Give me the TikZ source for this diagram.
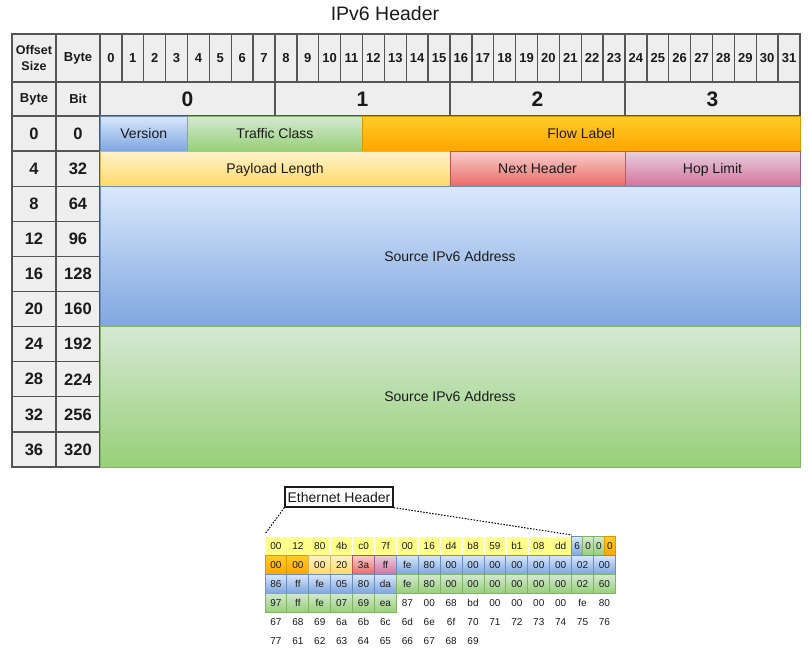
\documentclass[tikz,border=0pt]{standalone}
\usepackage{fontspec}
\setmainfont{Liberation Sans}
\usetikzlibrary{positioning}

\definecolor{txt}{HTML}{1A1A1A}
\definecolor{hdrfill}{HTML}{EEEEEE}
\definecolor{hdrline}{HTML}{555555}
\definecolor{bluetop}{HTML}{DAE8FC}\definecolor{bluebot}{HTML}{7EA6E0}\definecolor{blueline}{HTML}{6C8EBF}
\definecolor{greentop}{HTML}{D5E8D4}\definecolor{greenbot}{HTML}{97D077}\definecolor{greenline}{HTML}{82B366}
\definecolor{orangetop}{HTML}{FFCD28}\definecolor{orangebot}{HTML}{FFA500}\definecolor{orangeline}{HTML}{D79B00}
\definecolor{paletop}{HTML}{FFF2CC}\definecolor{palebot}{HTML}{FFD966}\definecolor{paleline}{HTML}{D6B656}
\definecolor{redtop}{HTML}{F8CECC}\definecolor{redbot}{HTML}{EA6B66}\definecolor{redline}{HTML}{B85450}
\definecolor{pinktop}{HTML}{E6D0DE}\definecolor{pinkbot}{HTML}{D5739D}\definecolor{pinkline}{HTML}{996185}
\definecolor{ethyellow}{HTML}{FFFF88}

\tikzset{
  cell/.style={draw=hdrline, fill=hdrfill, line width=1.3pt, inner sep=0pt, text=txt},
  field/.style={draw=#1line, top color=#1top, bottom color=#1bot, line width=1pt, inner sep=0pt,
    text=txt, text height=10pt, text depth=0pt, font=\fontsize{14}{16}\selectfont},
  hexcell/.style={field=#1, text height=7.2pt, minimum width=21.9pt, minimum height=19pt, font=\fontsize{10}{12}\selectfont},
  ethcell/.style={draw=white, line width=0.6pt, fill=ethyellow, inner sep=0pt, text=txt,
    text height=7.2pt, text depth=0pt, minimum width=21.9pt, minimum height=19pt, font=\fontsize{10}{12}\selectfont},
  hexplain/.style={inner sep=0pt, text=txt, text height=7.2pt, text depth=0pt,
    minimum width=21.9pt, minimum height=19pt, font=\fontsize{10}{12}\selectfont},
  dots/.style={line width=1pt, dash pattern=on 1.5pt off 1.5pt}
}

\begin{document}
\begin{tikzpicture}[x=1pt, y=-1pt]
  \useasboundingbox (0,0) rectangle (808,656);

  \node[text=txt, font=\fontsize{19.5}{21}\selectfont] (title) at (385,14) {IPv6 Header};

  % header rows
  \node[cell, minimum width=44pt, minimum height=48pt, align=center, font=\bfseries\fontsize{12.5}{15.5}\selectfont] (offhdr) at (34,58) {Offset\\Size};
  \node[cell, minimum width=44pt, minimum height=48pt, font=\bfseries\fontsize{13}{15}\selectfont] (bytehdr) at (78,58) {Byte};
  \node[cell, minimum width=44pt, minimum height=34pt, font=\bfseries\fontsize{13}{15}\selectfont] (byteunit) at (34,99) {Byte};
  \node[cell, minimum width=44pt, minimum height=34pt, font=\bfseries\fontsize{13}{15}\selectfont] (bitunit) at (78,99) {Bit};
  \foreach \b in {0,...,31}
    \node[cell, minimum width=21.875pt, minimum height=48pt, font=\bfseries\fontsize{13}{15}\selectfont] (bit\b) at ({100+21.875*(\b+0.5)},58) {\b};
  \foreach \B in {0,...,3}
    \node[cell, minimum width=175pt, minimum height=34pt, font=\bfseries\fontsize{21}{23}\selectfont] (byte\B) at ({100+175*(\B+0.5)},99) {\B};

  % offsets
  \foreach \byteoff/\bitoff [count=\r from 0] in {0/0,4/32,8/64,12/96,16/128,20/160,24/192,28/224,32/256,36/320} {
    \node[cell, minimum width=44pt, minimum height=35.1pt, font=\bfseries\fontsize{16.5}{18}\selectfont] (off\r) at (34,{116+35.1*(\r+0.5)}) {\byteoff};
    \node[cell, minimum width=44pt, minimum height=35.1pt, font=\bfseries\fontsize{16.5}{18}\selectfont] (bitoff\r) at (78,{116+35.1*(\r+0.5)}) {\bitoff};
  }

  % fields
  \node[field=blue, minimum width=87.5pt, minimum height=35.1pt] (version) at (143.75,133.55) {Version};
  \node[field=green, minimum width=175pt, minimum height=35.1pt] (tclass) at (275,133.55) {Traffic Class};
  \node[field=orange, minimum width=437.5pt, minimum height=35.1pt] (flow) at (581.25,133.55) {Flow Label};
  \node[field=pale, minimum width=350pt, minimum height=35.1pt] (paylen) at (275,168.65) {Payload Length};
  \node[field=red, minimum width=175pt, minimum height=35.1pt] (nexthdr) at (537.5,168.65) {Next Header};
  \node[field=pink, minimum width=175pt, minimum height=35.1pt] (hoplim) at (712.5,168.65) {Hop Limit};
  \node[field=blue, minimum width=700pt, minimum height=140.4pt] (srcaddr) at (450,256.4) {Source IPv6 Address};
  \node[field=green, minimum width=700pt, minimum height=140.4pt] (dstaddr) at (450,396.8) {Source IPv6 Address};

  % hex dump
  \foreach \v [count=\c from 0] in {00,12,80,4b,c0,7f,00,16,d4,b8,59,b1,08,dd}
    \node[ethcell] (hexa\c) at ({265+21.9*(\c+0.5)},545.5) {\v};
  \foreach \v/\s [count=\c from 0] in {6/blue,0/green,0/green,0/orange}
    \node[hexcell=\s, minimum width=10.95pt] (nib\c) at ({571.6+10.95*(\c+0.5)},545.5) {\v};
  \foreach \v/\s [count=\c from 0] in {00/orange,00/orange,00/pale,20/pale,3a/red,ff/pink,fe/blue,80/blue,
      00/blue,00/blue,00/blue,00/blue,00/blue,00/blue,02/blue,00/blue}
    \node[hexcell=\s] (hexb\c) at ({265+21.9*(\c+0.5)},564.5) {\v};
  \foreach \v/\s [count=\c from 0] in {86/blue,ff/blue,fe/blue,05/blue,80/blue,da/blue,fe/green,80/green,
      00/green,00/green,00/green,00/green,00/green,00/green,02/green,60/green}
    \node[hexcell=\s] (hexc\c) at ({265+21.9*(\c+0.5)},583.5) {\v};
  \foreach \v/\s [count=\c from 0] in {97/green,ff/green,fe/green,07/green,69/green,ea/green}
    \node[hexcell=\s] (hexd\c) at ({265+21.9*(\c+0.5)},602.5) {\v};
  \foreach \v [count=\c from 6] in {87,00,68,bd,00,00,00,00,fe,80}
    \node[hexplain] (hexd\c) at ({265+21.9*(\c+0.5)},602.5) {\v};
  \foreach \v [count=\c from 0] in {67,68,69,6a,6b,6c,6d,6e,6f,70,71,72,73,74,75,76}
    \node[hexplain] (hexe\c) at ({265+21.9*(\c+0.5)},621.5) {\v};
  \foreach \v [count=\c from 0] in {77,61,62,63,64,65,66,67,68,69}
    \node[hexplain] (hexf\c) at ({265+21.9*(\c+0.5)},640.5) {\v};

  % ethernet label
  \node[draw=txt, line width=1.2pt, inner sep=0pt, minimum width=108pt, minimum height=20pt, text=txt,
    font=\fontsize{14}{16}\selectfont] (ethlabel) at (339,497) {Ethernet Header};
  \coordinate (ethstart) at (265,534);
  \coordinate (ethend) at (572,535);
  \draw[dots] (ethlabel.south west) -- (ethstart);
  \draw[dots] (ethlabel.south east) -- (ethend);
\end{tikzpicture}
\end{document}
